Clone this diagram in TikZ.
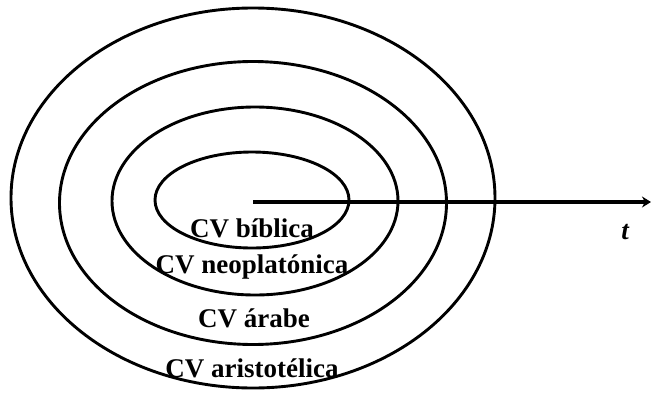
\documentclass[tikz,border=0pt]{standalone}
\usepackage{fontspec}
\setmainfont{Liberation Serif}
\usetikzlibrary{shapes.geometric,arrows.meta}
\begin{document}
\begin{tikzpicture}[x=1pt,y=-1pt,
    ring/.style={ellipse,draw,line width=2.9pt,inner sep=0pt,outer sep=0pt},
    lab/.style={font=\fontsize{27}{30}\selectfont\bfseries,inner sep=0pt}]
    \useasboundingbox (0,0) rectangle (653,394);
    % rings
    \node[ring,minimum width=484pt,minimum height=380pt] (ra) at (253,198) {};
    \node[ring,minimum width=387pt,minimum height=283pt] (rb) at (253,203) {};
    \node[ring,minimum width=286pt,minimum height=188pt] (rc) at (255,201) {};
    \node[ring,minimum width=194pt,minimum height=96pt] (rd) at (252,200) {};
    % time axis
    \coordinate (o) at (253,202);
    \coordinate (tip) at (651,202);
    \draw[line width=4.2pt,-{Stealth[length=9pt,width=11pt]}] (o) -- (tip);
    \node[lab,font=\fontsize{27}{30}\selectfont\bfseries\itshape] (t) at (625,232) {t};
    % labels
    \node[lab] (biblica) at (252,228) {CV bíblica};
    \node[lab] (neo) at (252,267) {CV neoplatónica};
    \node[lab] (arabe) at (254,318) {CV árabe};
    \node[lab] (aristo) at (252,368) {CV aristotélica};
\end{tikzpicture}
\end{document}
